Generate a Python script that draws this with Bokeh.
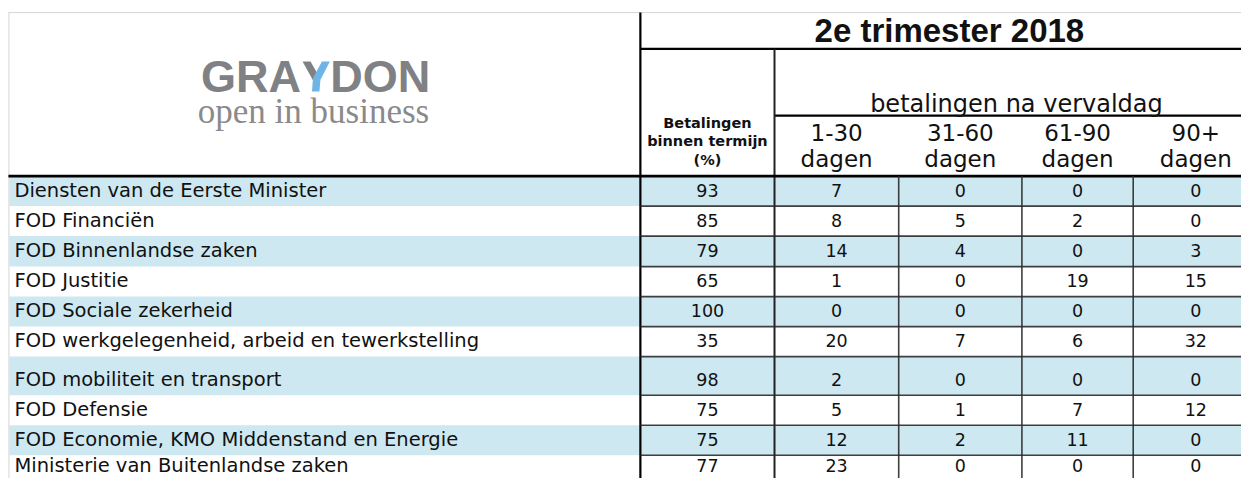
from bokeh.plotting import figure
from bokeh.models import Range1d
from bokeh.core.properties import value
from bokeh.embed import file_html
from bokeh.resources import INLINE

# ---------------- data ----------------
names = [
    "Diensten van de Eerste Minister",
    "FOD Financiën",
    "FOD Binnenlandse zaken",
    "FOD Justitie",
    "FOD Sociale zekerheid",
    "FOD werkgelegenheid, arbeid en tewerkstelling",
    "FOD mobiliteit en transport",
    "FOD Defensie",
    "FOD Economie, KMO Middenstand en Energie",
    "Ministerie van Buitenlandse zaken",
]
within_term = [93, 85, 79, 65, 100, 35, 98, 75, 75, 77]
days_1_30 = [7, 8, 14, 1, 0, 20, 2, 5, 12, 23]
days_31_60 = [0, 5, 4, 0, 0, 7, 0, 1, 2, 0]
days_61_90 = [0, 2, 0, 19, 0, 6, 0, 7, 11, 0]
days_90p = [0, 0, 3, 15, 0, 32, 0, 12, 0, 0]

title = "2e trimester 2018"
group_label = "betalingen na vervaldag"
first_col_label = ["Betalingen", "binnen termijn", "(%)"]
sub_labels_top = ["1-30", "31-60", "61-90", "90+"]
sub_labels_bottom = ["dagen", "dagen", "dagen", "dagen"]
logo_left, logo_right = "GRA", "DON"
logo_tag = "open in business"

# ---------------- layout (reference pixel space 1249 x 494) ----------------
W, H = 1241, 478
RW, RH = 1249, 494
row_edges = [181.5, 212.5, 243.5, 275, 306, 337, 368, 408, 439, 470, 501]
col_edges = [8, 644, 779, 904, 1028, 1140, 1266]
RIGHT = col_edges[-1]
blue = "#cde8f1"
line_dark = "#2a2a2a"
txt = "#111111"
logo_gray = "#808184"
logo_blue = "#6cb5e6"

p = figure(width=W, height=H, output_backend="svg", toolbar_location=None,
           x_range=Range1d(0, RW), y_range=Range1d(RH, 0),
           x_axis_location=None, y_axis_location=None, min_border=0)
p.grid.visible = False
p.outline_line_color = None
p.background_fill_color = "white"
p.border_fill_color = "white"

n = len(names)
# row bands
bl, br, bt, bb = [], [], [], []
for i in range(n):
    if i % 2 == 0:
        bl.append(col_edges[0] + 1)
        br.append(RIGHT)
        bt.append(row_edges[i])
        bb.append(row_edges[i + 1])
p.quad(left=bl, right=br, top=bt, bottom=bb, fill_color=blue, line_color=None)

# outer light border
p.segment(x0=[col_edges[0], col_edges[0] + 0.5], y0=[12.5, 12.5],
          x1=[RIGHT, col_edges[0] + 0.5], y1=[12.5, 520],
          line_color="#d4d4d4", line_width=1)

# header lines
p.segment(x0=[col_edges[1], col_edges[1], col_edges[2]],
          y0=[12.5, 50, 119],
          x1=[col_edges[1], RIGHT, RIGHT],
          y1=[520, 50, 119],
          line_color="black", line_width=2.2)
p.segment(x0=[col_edges[2]], y0=[50], x1=[col_edges[2]], y1=[520],
          line_color="#222222", line_width=2)
p.segment(x0=[col_edges[0]], y0=[row_edges[0]], x1=[RIGHT], y1=[row_edges[0]],
          line_color="black", line_width=2.8)

# grid lines in numeric area
hy = row_edges[1:n]
p.segment(x0=[col_edges[1]] * (n - 1), y0=hy, x1=[RIGHT] * (n - 1), y1=hy,
          line_color=line_dark, line_width=1.6, line_alpha=0.9)
vx = col_edges[3:6]
p.segment(x0=vx, y0=[row_edges[0]] * 3, x1=vx, y1=[520] * 3,
          line_color=line_dark, line_width=1.6, line_alpha=0.9)

# ---------------- texts ----------------
mids = [min(row_edges[i + 1] - 16.5, 481.0) for i in range(n)]
p.text(x=[col_edges[0] + 6] * n, y=mids, text=names,
       text_font=value("DejaVu Sans"), text_font_size=value("19.5px"),
       text_color=txt, text_align="left", text_baseline="middle")

cols = [within_term, days_1_30, days_31_60, days_61_90, days_90p]
for j, col in enumerate(cols):
    cx = (col_edges[j + 1] + col_edges[j + 2]) / 2
    p.text(x=[cx] * n, y=mids, text=[str(v) for v in col],
           text_font=value("DejaVu Sans"), text_font_size=value("17.5px"),
           text_color=txt, text_align="center", text_baseline="middle")

# title
p.text(x=[(col_edges[1] + RIGHT) / 2], y=[30.5], text=[title],
       text_font=value("Liberation Sans"), text_font_style="bold",
       text_font_size=value("33px"), text_color=txt,
       text_align="center", text_baseline="middle")
# group label
p.text(x=[(col_edges[2] + RIGHT) / 2], y=[106.5], text=[group_label],
       text_font=value("DejaVu Sans"), text_font_size=value("24px"),
       text_color=txt, text_align="center", text_baseline="middle")
# first col label
p.text(x=[(col_edges[1] + col_edges[2]) / 2] * 3, y=[126.5, 145.5, 165], text=first_col_label,
       text_font=value("DejaVu Sans"), text_font_style="bold", text_font_size=value("14.5px"),
       text_color=txt, text_align="center", text_baseline="middle")
# sub labels
sx = [(col_edges[k] + col_edges[k + 1]) / 2 for k in range(2, 6)]
p.text(x=sx, y=[136] * 4, text=sub_labels_top,
       text_font=value("DejaVu Sans"), text_font_size=value("23px"),
       text_color=txt, text_align="center", text_baseline="middle")
p.text(x=sx, y=[164] * 4, text=sub_labels_bottom,
       text_font=value("DejaVu Sans"), text_font_size=value("23px"),
       text_color=txt, text_align="center", text_baseline="middle")

# logo
p.text(x=[302.5], y=[78.5], text=[logo_left],
       text_font=value("Liberation Sans"), text_font_style="bold",
       text_font_size=value("45px"), text_color=logo_gray,
       text_align="right", text_baseline="middle")
p.text(x=[332], y=[78.5], text=[logo_right],
       text_font=value("Liberation Sans"), text_font_style="bold",
       text_font_size=value("45px"), text_color=logo_gray,
       text_align="left", text_baseline="middle")
p.patch(x=[304, 312, 321.5, 317], y=[63, 63, 80, 87], fill_color=logo_gray, line_color=None)
p.patch(x=[323.5, 331.5, 322, 321, 313.5, 314.5], y=[63, 63, 82, 94, 94, 80],
        fill_color=logo_blue, line_color=None)
p.text(x=[315], y=[115], text=[logo_tag],
       text_font=value("Liberation Serif"), text_font_size=value("35px"),
       text_color="#8a8a8c", text_align="center", text_baseline="middle")

open("out.html", "w").write(file_html(p, INLINE))
